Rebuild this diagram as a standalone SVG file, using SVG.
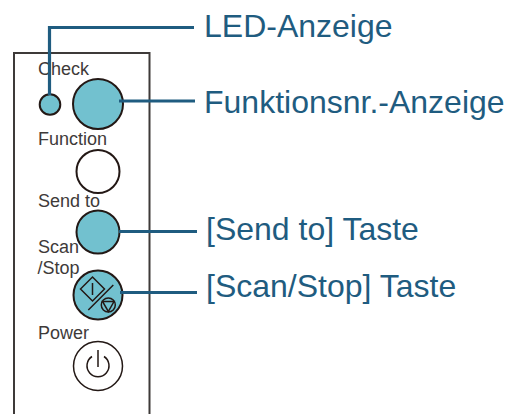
<svg xmlns="http://www.w3.org/2000/svg" width="508" height="414" viewBox="0 0 508 414">
<style>
text{font-family:"Liberation Sans",Arial,sans-serif}
.s{font-size:18px;fill:#3e3a39}
.l{font-size:32px;fill:#1f5c80}
.c{stroke:#231815;stroke-width:2}
.t{fill:#72c1cf}
.g{fill:none;stroke:#231815;stroke-width:1.500}
.k{fill:none;stroke:#1f5c80;stroke-width:3.200}
</style>
<rect width="508" height="414" fill="#fff"/>
<path id="panel" d="M14 414V53H149.500V414" fill="none" stroke="#3e3a39" stroke-width="2"/>
<g id="check"><text class="s" x="38" y="75">Check</text><circle class="c t" cx="50" cy="104.500" r="10.300"/></g>
<g id="funktionsnr"><circle class="c t" cx="98" cy="104" r="25"/></g>
<g id="function"><text class="s" x="38" y="144.500">Function</text><circle class="c" fill="#fff" cx="98" cy="171.500" r="21.500"/></g>
<g id="send"><text class="s" x="38" y="206.500">Send to</text><circle class="c t" cx="98" cy="232" r="21.500"/></g>
<g id="scan"><text class="s" x="38" y="253">Scan</text><text class="s" x="37.500" y="274">/Stop</text><circle class="c t" cx="98" cy="295" r="24.500"/>
<path class="g" d="M80.500 289L92.500 277L104.500 289L92.500 301ZM92.500 283V295M88.300 310L113.300 285"/><circle class="g" cx="108.300" cy="305" r="7"/><path class="g" d="M102.500 301.500H114L108.300 311.500Z"/></g>
<g id="power"><text class="s" x="38" y="338.500">Power</text><circle cx="98" cy="366" r="24.500" fill="#fff" stroke="#231815" stroke-width="1.500"/><path class="g" d="M92 356.500A11 11 0 1 0 104 356.500M98 350V367"/></g>
<g id="connectors"><path class="k" d="M194 27.500H49.500V95"/><path class="k" d="M119 101H195"/><path class="k" d="M119 231.500H197"/><path class="k" d="M120 292.500H197"/></g>
<g id="labels"><text class="l" x="204" y="37">LED-Anzeige</text><text class="l" x="204" y="113">Funktionsnr.-Anzeige</text><text class="l" x="206" y="240">[Send to] Taste</text><text class="l" x="206" y="297">[Scan/Stop] Taste</text></g>
</svg>
